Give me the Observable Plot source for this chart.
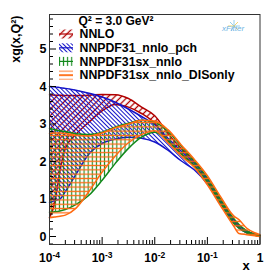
<!DOCTYPE html>
<html><head><meta charset="utf-8">
<script src="https://cdn.jsdelivr.net/npm/d3@7"></script>
<script src="https://cdn.jsdelivr.net/npm/@observablehq/plot@0.6"></script>
<style>body{margin:0;background:#fff} svg{display:block}</style>
</head><body><div id="chart"></div>
<script>
// x grid of the bands
const xGrid = [1e-4, 1.26e-4, 1.58e-4, 2e-4, 3.16e-4, 5.62e-4, 1e-3, 1.78e-3, 3.16e-3, 5.62e-3, 1e-2, 1.78e-2, 3.16e-2, 5.62e-2, 0.1, 0.178, 0.316, 0.398, 0.562, 0.794, 1];
// NNLO
const nnloLo = [0.5, 0.9, 1.75, 2.35, 2.72, 3.05, 3.35, 3.52, 3.45, 3.28, 3.02, 2.55, 2.22, 1.9, 1.46, 0.92, 0.38, 0.24, 0.1, 0.04, 0.01];
const nnloHi = [3.78, 3.77, 3.77, 3.76, 3.76, 3.77, 3.79, 3.78, 3.68, 3.45, 3.22, 2.75, 2.35, 2.0, 1.55, 0.98, 0.45, 0.3, 0.14, 0.06, 0.03];
// NNPDF31_nnlo_pch
const pchLo = [0.9, 0.96, 1.0, 1.2, 1.65, 2.2, 2.48, 2.6, 2.65, 2.62, 2.52, 2.3, 2.02, 1.78, 1.4, 0.88, 0.37, 0.23, 0.1, 0.04, 0.01];
const pchHi = [4.0, 3.99, 3.97, 3.95, 3.9, 3.82, 3.72, 3.58, 3.4, 3.2, 2.98, 2.62, 2.28, 1.96, 1.53, 0.98, 0.45, 0.3, 0.14, 0.06, 0.03];
// NNPDF31sx_nnlo
const sxLo = [0.65, 0.66, 0.68, 0.72, 0.85, 1.1, 1.5, 1.95, 2.35, 2.65, 2.78, 2.55, 2.2, 1.9, 1.45, 0.9, 0.36, 0.22, 0.1, 0.03, 0.01];
const sxHi = [2.88, 2.85, 2.82, 2.8, 2.74, 2.72, 2.78, 2.92, 3.02, 3.1, 3.05, 2.8, 2.42, 2.02, 1.56, 1.0, 0.48, 0.32, 0.15, 0.06, 0.03];
// NNPDF31sx_nnlo_DISonly
const disLo = [0.5, 0.52, 0.54, 0.57, 0.75, 1.2, 1.72, 2.15, 2.5, 2.72, 2.82, 2.5, 2.15, 1.85, 1.38, 0.82, 0.28, 0.08, 0.05, 0.02, 0.0];
const disHi = [2.75, 2.76, 2.76, 2.75, 2.7, 2.68, 2.76, 2.9, 3.0, 3.1, 3.08, 2.85, 2.45, 2.06, 1.62, 1.06, 0.55, 0.45, 0.22, 0.1, 0.05];

const seriesNames = ["NNLO", "NNPDF31_nnlo_pch", "NNPDF31sx_nnlo", "NNPDF31sx_nnlo_DISonly"];
const xMajor = [1e-4, 1e-3, 1e-2, 1e-1, 1];
const xMinor = [2,3,4,5,6,7,8,9].flatMap(m => [1e-4, 1e-3, 1e-2, 1e-1].map(d => m * d));
const yMajor = [0, 1, 2, 3, 4, 5];
const yMinor = [-0.2, 0.2, 0.4, 0.6, 0.8, 1.2, 1.4, 1.6, 1.8, 2.2, 2.4, 2.6, 2.8, 3.2, 3.4, 3.6, 3.8, 4.2, 4.4, 4.6, 4.8, 5.2, 5.4, 5.6, 5.8];
const titleText = "Q\u00b2 = 3.0 GeV\u00b2";
const yLabel = "xg(x,Q\u00b2)";

const yDomain = [-0.213, 5.92];
const styles = [
  {lo: nnloLo, hi: nnloHi, color: "#b00000", pat: "hRed"},
  {lo: pchLo, hi: pchHi, color: "#1414c8", pat: "hBlue"},
  {lo: sxLo, hi: sxHi, color: "#11881a", pat: "hGreen"},
  {lo: disLo, hi: disHi, color: "#ff6a10", pat: "hOrange"}
];
const font = "'Liberation Sans', Arial, Helvetica, sans-serif";
const curve = "monotone-x";

const marks = [];
styles.forEach(s => {
  const rows = xGrid.map((x, i) => ({x, lo: s.lo[i], hi: s.hi[i]}));
  marks.push(Plot.areaY(rows, {x: "x", y1: "lo", y2: "hi", fill: `url(#${s.pat})`, curve}));
  marks.push(Plot.lineY(rows, {x: "x", y: "hi", stroke: s.color, strokeWidth: 1.5, curve}));
  marks.push(Plot.lineY(rows, {x: "x", y: "lo", stroke: s.color, strokeWidth: 1.5, curve}));
});
// ticks (inside)
marks.push(Plot.ruleX(xMajor, {x: d => d, y1: yDomain[0], y2: yDomain[0], insetTop: -7, stroke: "#000"}));
marks.push(Plot.ruleX(xMinor, {x: d => d, y1: yDomain[0], y2: yDomain[0], insetTop: -4, stroke: "#000"}));
marks.push(Plot.ruleY(yMajor, {y: d => d, x1: 1e-4, x2: 1e-4, insetLeft: 7, stroke: "#000"}));
marks.push(Plot.ruleY(yMinor, {y: d => d, x1: 1e-4, x2: 1e-4, insetLeft: 4, stroke: "#000"}));
marks.push(Plot.frame({stroke: "#333", strokeWidth: 1}));
marks.push(Plot.axisX(xMajor, {tickSize: 0, tickPadding: 9, fontSize: 12, fontWeight: "bold", label: null,
  tickFormat: d => d === 1 ? "1" : "10^" + Math.round(Math.log10(d))}));
marks.push(Plot.axisY(yMajor, {tickSize: 0, tickPadding: 3, fontSize: 12.5, fontWeight: "bold", label: null, tickFormat: d => String(d)}));
marks.push(Plot.text(["x"], {text: d => d, frameAnchor: "bottom-right", dx: -14, dy: 21, fontSize: 13, fontWeight: "bold", textAnchor: "middle", lineAnchor: "middle"}));
marks.push(Plot.text([yLabel], {text: d => d, frameAnchor: "top-left", dx: -34, dy: 1, rotate: -90, textAnchor: "end", lineAnchor: "middle", fontSize: 12.5, fontWeight: "bold"}));
marks.push(Plot.text([titleText], {text: d => d, frameAnchor: "top-left", dx: 29, dy: 6.5, textAnchor: "start", lineAnchor: "middle", fontSize: 12, fontWeight: "bold"}));
const legendDy = [20, 33.8, 47.4, 61];
seriesNames.forEach((n, i) => {
  marks.push(Plot.text([n], {text: d => d, frameAnchor: "top-left", dx: 30, dy: legendDy[i], textAnchor: "start", lineAnchor: "middle", fontSize: 12.3, fontWeight: "bold"}));
});

const svg = Plot.plot({
  width: 274, height: 272,
  marginLeft: 49, marginRight: 14.5, marginTop: 14, marginBottom: 28,
  x: {type: "log", domain: [1e-4, 1], axis: null},
  y: {domain: yDomain, axis: null},
  style: {fontFamily: font, background: "#fff", color: "#000"},
  marks
});

const root = d3.select(svg);
const defs = root.insert("defs", ":first-child");
function hatch(id, color, size, angle, w) {
  const p = defs.append("pattern").attr("id", id).attr("patternUnits", "userSpaceOnUse")
    .attr("width", size).attr("height", size).attr("patternTransform", `rotate(${angle})`);
  p.append("line").attr("x1", size / 2).attr("y1", 0).attr("x2", size / 2).attr("y2", size)
    .attr("stroke", color).attr("stroke-width", w);
}
hatch("hRed", styles[0].color, 4.6, 45, 1.3);
hatch("hBlue", styles[1].color, 3.0, -45, 1.0);
hatch("hGreen", styles[2].color, 4.1, 0, 1.1);
hatch("hOrange", styles[3].color, 4.3, 90, 1.3);

// superscript x tick labels
root.selectAll('[aria-label="x-axis tick label"] text').each(function() {
  const t = d3.select(this);
  const s = t.text();
  if (s.startsWith("10^")) {
    t.text("10");
    t.append("tspan").attr("dy", "-0.5em").attr("font-size", "8.5px").text(s.slice(3));
  }
});

// legend swatches
const sw = root.append("g");
styles.forEach((s, i) => {
  const cy = 14 + legendDy[i];
  sw.append("rect").attr("x", 59).attr("y", cy - 4.5).attr("width", 14).attr("height", 9).attr("fill", `url(#${s.pat})`);
  sw.append("line").attr("x1", 59).attr("x2", 73).attr("y1", cy).attr("y2", cy).attr("stroke", s.color).attr("stroke-width", 1.2);
});

// xFitter logo
const logo = root.append("g");
[[0,-6],[4,-4],[6,0],[4,4],[-4,-4],[-6,0],[-3,5]].forEach(([dx, dy], k) => {
  logo.append("line").attr("x1", 234).attr("y1", 26).attr("x2", 234 + dx).attr("y2", 26 + dy)
    .attr("stroke", k % 2 ? "#f2c94c" : "#7cc3ea").attr("stroke-width", 0.8);
});
logo.append("text").attr("x", 233).attr("y", 31).attr("font-size", "8px").attr("font-style", "italic")
  .attr("fill", "#6cb4e4").attr("font-family", font).text("xFitter");

document.getElementById("chart").appendChild(svg);
</script>
</body></html>
